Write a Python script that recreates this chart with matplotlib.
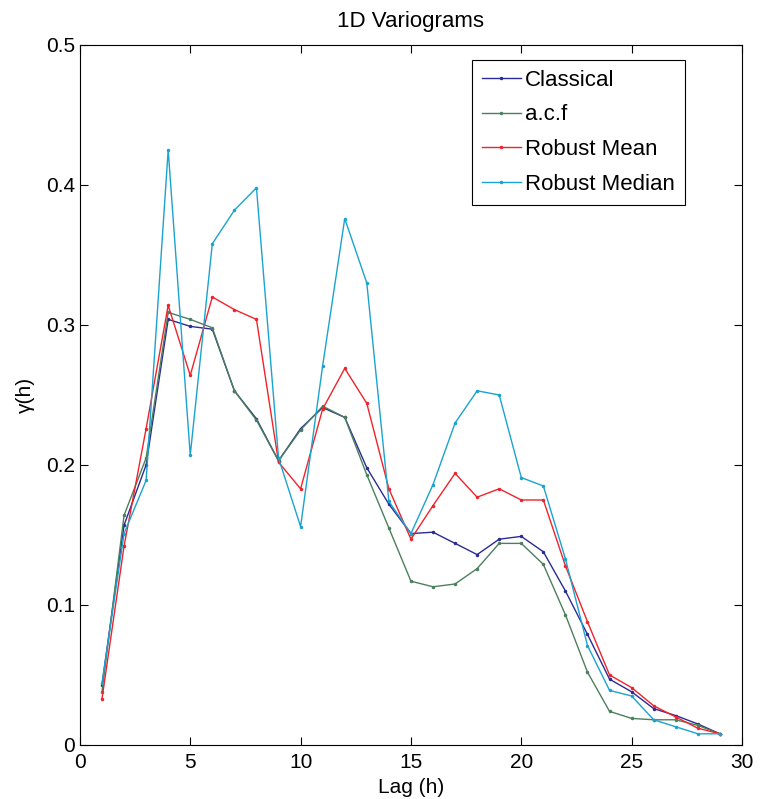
import matplotlib
matplotlib.use("Agg")
import matplotlib.pyplot as plt

plt.rcParams["font.family"] = ["Liberation Sans", "DejaVu Sans"]

lags = list(range(1, 30))

classical = [0.043, 0.157, 0.200, 0.304, 0.299, 0.297, 0.253, 0.233, 0.203, 0.226,
             0.241, 0.234, 0.198, 0.172, 0.151, 0.152, 0.144, 0.136, 0.147, 0.149,
             0.138, 0.110, 0.079, 0.047, 0.038, 0.026, 0.021, 0.015, 0.008]
acf = [0.038, 0.164, 0.205, 0.309, 0.304, 0.298, 0.253, 0.232, 0.203, 0.225,
       0.242, 0.234, 0.193, 0.155, 0.117, 0.113, 0.115, 0.126, 0.144, 0.144,
       0.129, 0.093, 0.052, 0.024, 0.019, 0.018, 0.018, 0.014, 0.008]
robust_mean = [0.033, 0.142, 0.226, 0.314, 0.264, 0.320, 0.311, 0.304, 0.202, 0.183,
               0.240, 0.269, 0.244, 0.183, 0.147, 0.171, 0.194, 0.177, 0.183, 0.175,
               0.175, 0.128, 0.088, 0.050, 0.041, 0.028, 0.020, 0.012, 0.008]
robust_median = [0.044, 0.151, 0.189, 0.425, 0.207, 0.358, 0.382, 0.398, 0.205, 0.156,
                 0.271, 0.376, 0.330, 0.174, 0.151, 0.186, 0.230, 0.253, 0.250, 0.191,
                 0.185, 0.133, 0.071, 0.039, 0.035, 0.018, 0.013, 0.008, 0.008]

series = [("Classical", classical, "#2b2b96"),
          ("a.c.f", acf, "#4c7f5e"),
          ("Robust Mean", robust_mean, "#f0232b"),
          ("Robust Median", robust_median, "#1ba3cf")]

fig = plt.figure(figsize=(7.61, 7.99), dpi=100)
ax = fig.add_axes([0.105, 0.0676, 0.87, 0.8761])

for name, vals, col in series:
    ax.plot(lags, vals, color=col, lw=1.0, marker=".", markersize=3, label=name)

ax.set_xlim(0, 30)
ax.set_ylim(0, 0.5)
ax.set_xticks([0, 5, 10, 15, 20, 25, 30])
ax.set_yticks([0, 0.1, 0.2, 0.3, 0.4, 0.5])
ax.set_yticklabels(["0", "0.1", "0.2", "0.3", "0.4", "0.5"])
ax.tick_params(direction="in", top=True, right=True, labelsize=15, length=6)
ax.tick_params(axis="x", pad=6)
for s in ax.spines.values():
    s.set_linewidth(0.8)

ax.set_title("1D Variograms", fontsize=16, pad=13)
ax.set_xlabel("Lag (h)", fontsize=15, labelpad=4)
ax.set_ylabel("γ(h)", fontsize=15, labelpad=8)

leg = ax.legend(loc="upper right", bbox_to_anchor=(0.914, 0.979), borderaxespad=0,
                fontsize=16, fancybox=False, edgecolor="black", framealpha=1,
                handlelength=1.75, handletextpad=0.2, borderpad=0.45, labelspacing=0.62)
leg.get_frame().set_linewidth(0.8)

fig.savefig("out.png", dpi=100)
